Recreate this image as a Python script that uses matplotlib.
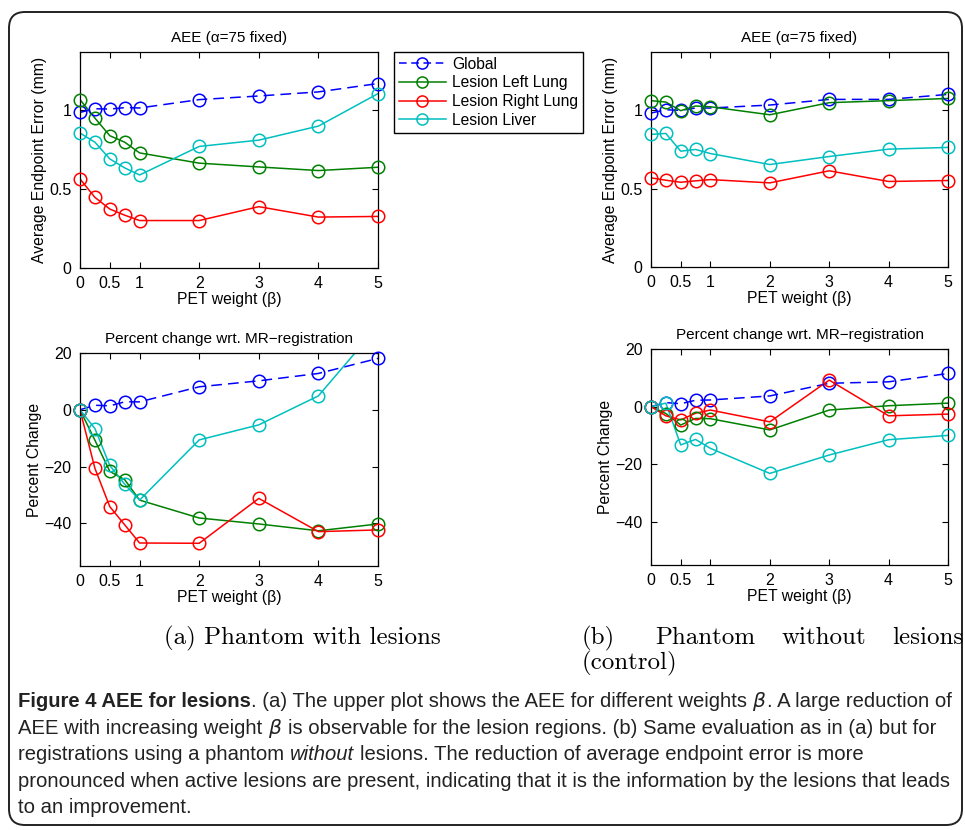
"""
AEE for lesions: phantom with / without lesions, absolute AEE and percent change
"""

import numpy as np
import matplotlib
matplotlib.use('Agg')
import matplotlib.pyplot as plt
from matplotlib.lines import Line2D
from matplotlib.patches import FancyBboxPatch
from matplotlib.transforms import IdentityTransform

# PET weights
beta = [0, 0.25, 0.5, 0.75, 1, 2, 3, 4, 5]
series_names = ['Global', 'Lesion Left Lung', 'Lesion Right Lung', 'Lesion Liver']

# (a) phantom with lesions, AEE (mm)
aee_a_global = [0.987, 1.01, 1.008, 1.017, 1.015, 1.068, 1.091, 1.117, 1.17]
aee_a_left = [1.068, 0.951, 0.839, 0.798, 0.730, 0.665, 0.641, 0.618, 0.639]
aee_a_right = [0.565, 0.448, 0.374, 0.335, 0.301, 0.301, 0.389, 0.323, 0.327]
aee_a_liver = [0.856, 0.798, 0.692, 0.635, 0.590, 0.771, 0.811, 0.900, 1.106]

# (a) percent change wrt. MR-registration
pct_a_global = [0, 1.6, 1.4, 2.8, 2.8, 8.1, 10.2, 12.8, 18.1]
pct_a_left = [0, -10.7, -21.7, -24.6, -31.8, -38.1, -40.2, -42.6, -40.2]
pct_a_right = [0, -20.6, -34.1, -40.5, -46.9, -47.0, -31.2, -42.9, -42.3]
pct_a_liver = [0, -6.6, -19.6, -26.2, -31.8, -10.6, -5.3, 4.9, 29.5]

# (b) phantom without lesions, AEE (mm)
aee_b_global = [0.981, 1.002, 0.998, 1.013, 1.013, 1.032, 1.068, 1.068, 1.10]
aee_b_left = [1.06, 1.051, 0.996, 1.026, 1.021, 0.970, 1.047, 1.06, 1.074]
aee_b_right = [0.568, 0.553, 0.540, 0.549, 0.557, 0.536, 0.613, 0.545, 0.551]
aee_b_liver = [0.845, 0.851, 0.738, 0.749, 0.723, 0.653, 0.704, 0.751, 0.762]

# (b) percent change wrt. MR-registration
pct_b_global = [0, 1.4, 1.0, 2.2, 2.3, 3.7, 8.1, 8.6, 11.5]
pct_b_left = [0, -2.4, -6.4, -4.1, -4.2, -8.1, -1.2, 0.3, 1.2]
pct_b_right = [0, -3.2, -4.6, -2.3, -1.2, -5.3, 9.2, -3.2, -2.6]
pct_b_liver = [0, 1.2, -13.3, -11.4, -14.5, -23.2, -16.8, -11.5, -10.0]

colors = ['#0000ff', '#008000', '#ff0000', '#00bfbf']
styles = ['--', '-', '-', '-']

plt.rcParams['font.family'] = ['Liberation Sans', 'DejaVu Sans']
plt.rcParams['mathtext.fontset'] = 'dejavusans'

W, H = 965, 830
fig = plt.figure(figsize=(W / 100, H / 100), dpi=100)


def draw_panel(rect, data, ylim, yticks, yticklabels, title, ylabel):
    ax = fig.add_axes(rect)
    x = np.array(beta)
    for vals, c, ls in zip(data, colors, styles):
        vals = np.array(vals, dtype=float)
        if ls == '--':
            ax.plot(x, vals, color=c, lw=1.1, dashes=(7, 4), zorder=2)
        else:
            ax.plot(x, vals, color=c, lw=1.1, zorder=2)
        # markers are not clipped at the axes edge (matlab style)
        inside = (vals >= ylim[0]) & (vals <= ylim[1])
        ax.plot(x[inside], vals[inside], 'o', mfc='none', mec=c, ms=9,
                mew=1.1, clip_on=False, zorder=3)
    ax.set_xlim(0, 5)
    ax.set_ylim(*ylim)
    ax.set_xticks([0, 0.5, 1, 2, 3, 4, 5])
    ax.set_xticklabels(['0', '0.5', '1', '2', '3', '4', '5'])
    ax.set_yticks(yticks)
    ax.set_yticklabels(yticklabels)
    ax.tick_params(direction='in', top=True, right=True, length=4,
                   width=0.8, labelsize=11.5, pad=6)
    for sp in ax.spines.values():
        sp.set_linewidth(0.9)
    ax.set_title(title, fontsize=11, pad=7)
    ax.set_xlabel('PET weight (β)', fontsize=11.3, labelpad=0.5)
    ax.set_ylabel(ylabel, fontsize=11.3, labelpad=2)
    return ax


aee_ticks = [0, 0.5, 1]
aee_labels = ['0', '0.5', '1']
pct_ticks = [-40, -20, 0, 20]
pct_labels = ['\u221240', '\u221220', '0', '20']
aee_title = 'AEE (α=75 fixed)'
pct_title = 'Percent change wrt. MR\u2212registration'

ax_tl = draw_panel([80 / W, 1 - 268 / H, 298 / W, 216 / H],
                   [aee_a_global, aee_a_left, aee_a_right, aee_a_liver],
                   (0, 1.37), aee_ticks, aee_labels, aee_title,
                   'Average Endpoint Error (mm)')
ax_tr = draw_panel([651 / W, 1 - 267 / H, 297 / W, 215 / H],
                   [aee_b_global, aee_b_left, aee_b_right, aee_b_liver],
                   (0, 1.37), aee_ticks, aee_labels, aee_title,
                   'Average Endpoint Error (mm)')
ax_bl = draw_panel([80 / W, 1 - 566 / H, 298 / W, 213 / H],
                   [pct_a_global, pct_a_left, pct_a_right, pct_a_liver],
                   (-55, 20), pct_ticks, pct_labels, pct_title,
                   'Percent Change')
ax_br = draw_panel([651 / W, 1 - 565 / H, 297 / W, 216 / H],
                   [pct_b_global, pct_b_left, pct_b_right, pct_b_liver],
                   (-55, 20), pct_ticks, pct_labels, pct_title,
                   'Percent Change')

# legend sitting between the two upper panels
handles = []
for name, c, ls in zip(series_names, colors, styles):
    h = Line2D([], [], color=c, lw=1.1, marker='o', mfc='none', mec=c,
               ms=8, mew=1.1)
    if ls == '--':
        h.set_dashes((5, 3))
    handles.append(h)
fig.legend(handles, series_names, loc='upper left',
           bbox_to_anchor=(394 / W, 1 - 52 / H), fontsize=11.25,
           frameon=True, fancybox=False, edgecolor='black', framealpha=1,
           borderpad=0.3, labelspacing=0.24, handlelength=3.0,
           handletextpad=0.4, borderaxespad=0)

# rounded frame around the figure
frame = FancyBboxPatch((9, 5), 953, 813, boxstyle='round,pad=0,rounding_size=16',
                       transform=IdentityTransform(), fill=False,
                       edgecolor='#222222', lw=1.4)
fig.add_artist(frame)

# sub-captions (LaTeX look)
sub_kw = dict(family='cmr10', fontsize=18, transform=IdentityTransform(),
              va='baseline')
fig.text(302, H - 644, '(a) Phantom with lesions', ha='center', **sub_kw)
fig.text(582, H - 644, '(b)', ha='left', **sub_kw)
fig.text(655, H - 644, 'Phantom', ha='left', **sub_kw)
fig.text(782, H - 644, 'without', ha='left', **sub_kw)
fig.text(963, H - 644, 'lesions', ha='right', **sub_kw)
fig.text(582, H - 669, '(control)', ha='left', **sub_kw)

# figure caption with mixed styles
cap_font = ['Liberation Sans', 'DejaVu Sans']
cap_size = 14.6
renderer = fig.canvas.get_renderer()


def text_width(s, **kw):
    t = fig.text(0, 0, s, fontsize=cap_size, family=cap_font, **kw)
    w = t.get_window_extent(renderer).width
    t.remove()
    return w


space_w = text_width('x x') - text_width('xx')

REG = {}
BOLD = {'fontweight': 'bold'}
ITAL = {'style': 'italic'}
caption_lines = [
    [('Figure 4 AEE for lesions', BOLD, 0),
     ('. (a) The upper plot shows the AEE for different weights', REG, 0),
     (r'$\beta$', REG, 1), ('. A large reduction of', REG, 0)],
    [('AEE with increasing weight', REG, 0), (r'$\beta$', REG, 1),
     ('is observable for the lesion regions. (b) Same evaluation as in (a) but for', REG, 1)],
    [('registrations using a phantom', REG, 0), ('without', ITAL, 1),
     ('lesions. The reduction of average endpoint error is more', REG, 1)],
    [('pronounced when active lesions are present, indicating that it is the information by the lesions that leads', REG, 0)],
    [('to an improvement.', REG, 0)],
]
baselines = [707, 733.5, 760, 787, 813]

for runs, yb in zip(caption_lines, baselines):
    x = 18
    for txt, st, gap in runs:
        x += gap * space_w
        t = fig.text(x, H - yb, txt, fontsize=cap_size, family=cap_font,
                     transform=IdentityTransform(), va='baseline', ha='left',
                     color='#222222', **st)
        x = t.get_window_extent(renderer).x1

fig.savefig('out.png', dpi=100)
